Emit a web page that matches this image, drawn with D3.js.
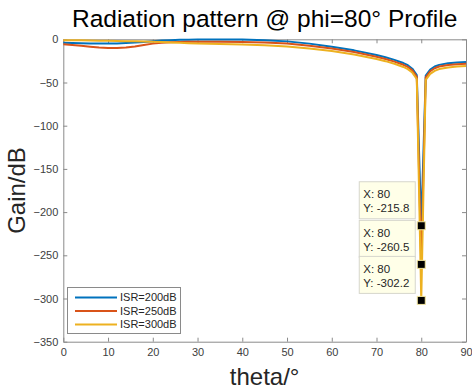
<!DOCTYPE html>
<html>
<head>
<meta charset="utf-8">
<script src="https://cdn.jsdelivr.net/npm/d3@7"></script>
<style>
  body { margin: 0; background: #fff; }
  svg { display: block; font-family: "Liberation Sans", Arial, sans-serif; }
</style>
</head>
<body>
<svg id="chart"></svg>
<script>
// theta samples (deg)
const theta = [0, 2, 4, 6, 8, 10, 12, 14, 16, 18, 20, 22, 24, 26, 28, 30, 35, 40, 45, 50, 55, 60, 65, 70, 72, 74, 76, 77, 78, 79, 80, 81, 82, 83, 84, 86, 88, 90];

const gain200 = [-4.0, -4.3, -4.6, -4.9, -5.0, -5.0, -4.8, -4.4, -3.8, -3.0, -2.2, -1.5, -1.0, -0.6, -0.4, -0.2, -0.1, -0.3, -1.0, -2.4, -5.0, -8.5, -12.8, -18.2, -20.8, -23.8, -27.5, -30, -34, -41.5, -215.8, -42, -35, -31.5, -29.6, -27.8, -26.9, -26.3];
const gain250 = [-5.8, -6.5, -7.5, -8.5, -9.4, -10.0, -10.2, -9.6, -8.3, -6.6, -5.0, -3.9, -3.3, -3.0, -2.9, -2.8, -2.8, -3.0, -3.7, -5.0, -7.4, -10.6, -14.8, -20.2, -22.8, -25.8, -29.5, -32, -36, -43.5, -260.5, -44, -37, -33.5, -31.5, -29.8, -28.9, -28.3];
const gain300 = [-1.0, -1.1, -1.2, -1.4, -1.6, -1.8, -2.0, -2.2, -2.4, -2.6, -2.8, -3.2, -3.7, -4.1, -4.5, -4.9, -5.4, -6.0, -7.0, -8.3, -10.6, -13.6, -17.6, -22.8, -25.3, -28.3, -32, -34.5, -38.5, -46, -302.2, -47, -40, -36.5, -34.5, -32.6, -31.6, -31.0];

const seriesNames = ["ISR=200dB", "ISR=250dB", "ISR=300dB"];
const seriesColors = ["#0072BD", "#D95319", "#EDB120"];

const xTicks = [0, 10, 20, 30, 40, 50, 60, 70, 80, 90];
const yTicks = [0, -50, -100, -150, -200, -250, -300, -350];

// data tips at the null
const tipTheta = [80, 80, 80];
const tipGain = [-215.8, -260.5, -302.2];

const width = 472, height = 392;
const plotL = 63.3, plotR = 466, plotT = 39.3, plotB = 341.7;

const svg = d3.select("#chart")
  .attr("width", width)
  .attr("height", height);

const x = d3.scaleLinear().domain([0, 90]).range([plotL, plotR]);
const y = d3.scaleLinear().domain([-350, 0]).range([plotB, plotT]);

const axisColor = "#8a8a8a";
const textColor = "#404040";

function styleAxis(g) {
  g.select(".domain").attr("stroke", axisColor);
  g.selectAll(".tick line").attr("stroke", axisColor);
  g.selectAll(".tick text").attr("fill", textColor).style("font-size", "11px");
}

// axes (ticks point inward like matlab)
svg.append("g")
  .attr("transform", `translate(0,${plotB})`)
  .call(d3.axisBottom(x).tickValues(xTicks).tickSize(-4).tickSizeOuter(0).tickPadding(7))
  .call(styleAxis);
svg.append("g")
  .attr("transform", `translate(0,${plotT})`)
  .call(d3.axisTop(x).tickValues(xTicks).tickSize(-4).tickSizeOuter(0).tickFormat(""))
  .call(styleAxis);
svg.append("g")
  .attr("transform", `translate(${plotL},0)`)
  .call(d3.axisLeft(y).tickValues(yTicks).tickSize(-4).tickSizeOuter(0).tickPadding(5))
  .call(styleAxis);
svg.append("g")
  .attr("transform", `translate(${plotR},0)`)
  .call(d3.axisRight(y).tickValues(yTicks).tickSize(-4).tickSizeOuter(0).tickFormat(""))
  .call(styleAxis);

// lines
const line = d3.line()
  .x((d, i) => x(theta[i]))
  .y(d => y(d));

[gain200, gain250, gain300].forEach((vals, k) => {
  svg.append("path")
    .datum(vals)
    .attr("fill", "none")
    .attr("stroke", seriesColors[k])
    .attr("stroke-width", 2)
    .attr("stroke-linejoin", "round")
    .attr("d", line);
});

// data tips
tipGain.forEach((g, i) => {
  const px = x(tipTheta[i]), py = y(g);
  const bw = 56, bh = 37;
  const bx = px - 6 - bw, by = py - 7 - bh;
  const tip = svg.append("g");
  tip.append("rect")
    .attr("x", bx).attr("y", by)
    .attr("width", bw).attr("height", bh)
    .attr("fill", "#ffffe8")
    .attr("stroke", "#d6d6cc");
  tip.append("text")
    .attr("x", bx + 4).attr("y", by + 13)
    .attr("dy", "0.32em")
    .style("font-size", "11.5px")
    .attr("fill", "#262626")
    .text("X: " + tipTheta[i]);
  tip.append("text")
    .attr("x", bx + 4).attr("y", by + 27)
    .attr("dy", "0.32em")
    .style("font-size", "11.5px")
    .attr("fill", "#262626")
    .text("Y: " + g.toFixed(1));
  svg.append("rect")
    .attr("x", px - 4).attr("y", py - 4)
    .attr("width", 8).attr("height", 8)
    .attr("fill", "#000")
    .attr("stroke", "#f3e6a0")
    .attr("stroke-width", 1);
});

// legend
const lg = svg.append("g");
lg.append("rect")
  .attr("x", 67.5).attr("y", 287.5)
  .attr("width", 113).attr("height", 46)
  .attr("fill", "#fff")
  .attr("stroke", "#8a8a8a");
seriesNames.forEach((name, i) => {
  const ly = 297.5 + i * 13.5;
  lg.append("line")
    .attr("x1", 75).attr("x2", 117)
    .attr("y1", ly).attr("y2", ly)
    .attr("stroke", seriesColors[i])
    .attr("stroke-width", 2);
  lg.append("text")
    .attr("x", 120).attr("y", ly)
    .attr("dy", "0.35em")
    .style("font-size", "11px")
    .attr("fill", "#262626")
    .text(name);
});

// titles
svg.append("text")
  .attr("x", (plotL + plotR) / 2).attr("y", 27)
  .attr("text-anchor", "middle")
  .style("font-size", "24.5px")
  .attr("fill", "#000")
  .text("Radiation pattern @ phi=80° Profile");

svg.append("text")
  .attr("x", (plotL + plotR) / 2).attr("y", 385)
  .attr("text-anchor", "middle")
  .style("font-size", "24px")
  .attr("fill", "#262626")
  .text("theta/°");

svg.append("text")
  .attr("transform", `translate(25,${(plotT + plotB) / 2}) rotate(-90)`)
  .attr("text-anchor", "middle")
  .style("font-size", "24px")
  .attr("fill", "#262626")
  .text("Gain/dB");
</script>
</body>
</html>
